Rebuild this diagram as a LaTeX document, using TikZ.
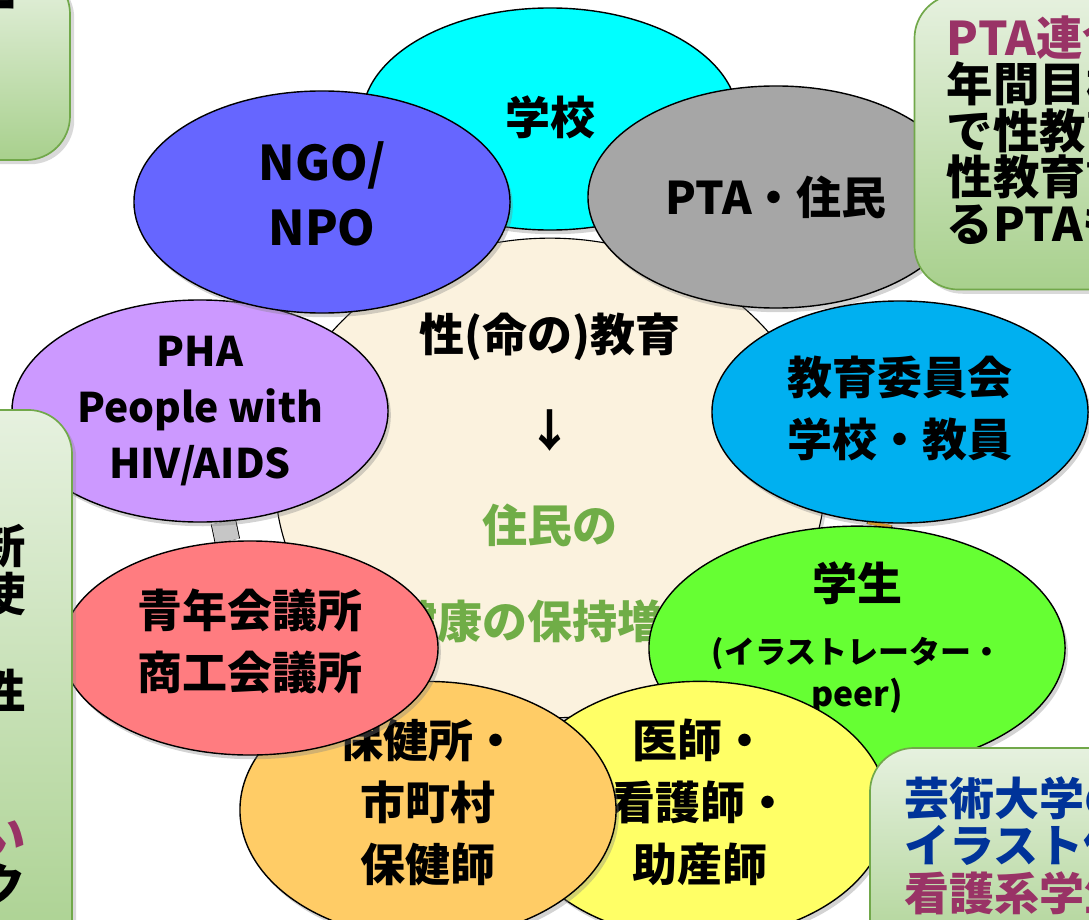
\documentclass[tikz,border=0pt]{standalone}
\usepackage{fontspec}
\setmainfont{Noto Sans CJK JP}
\usepackage{tikz}
\usetikzlibrary{shapes.geometric}
\usetikzlibrary{positioning,shadows,backgrounds}

\definecolor{fillSchool}{HTML}{00FFFF}
\definecolor{fillPTA}{HTML}{A6A6A6}
\definecolor{fillNGO}{HTML}{6666FF}
\definecolor{fillBoard}{HTML}{00B0F0}
\definecolor{fillPHA}{HTML}{CC99FF}
\definecolor{fillStudent}{HTML}{66FF33}
\definecolor{fillChamber}{HTML}{FF7C80}
\definecolor{fillHealth}{HTML}{FFCC66}
\definecolor{fillDoctor}{HTML}{FFFF66}
\definecolor{fillCore}{HTML}{FBF2DE}
\definecolor{leafText}{HTML}{70AD47}
\definecolor{memoTop}{HTML}{E6F1DF}
\definecolor{memoBottom}{HTML}{A8D08D}
\definecolor{memoLine}{HTML}{71A84A}
\definecolor{plum}{HTML}{993366}
\definecolor{navy}{HTML}{003399}

% extra depth under the last line, lifts a text block inside its node
\newcommand{\dropdepth}[1]{\rule[-#1]{0pt}{#1}}

\begin{document}
\begin{tikzpicture}[x=0.025cm, y=-0.025cm]
		\tikzstyle{bubble}=[ellipse, draw=black, line width=1pt, inner sep=0, minimum width=9.4cm, minimum height=5.55cm, align=center, font=\bfseries\fontsize{32}{44}\selectfont, drop shadow={shadow xshift=2pt, shadow yshift=-3pt, opacity=.35}]
		\tikzstyle{memo}=[rectangle, draw=memoLine, line width=1.2pt, rounded corners=1.1cm, top color=memoTop, bottom color=memoBottom, drop shadow={shadow xshift=3pt, shadow yshift=-3pt, opacity=.3}]
		\tikzstyle{memotext}=[inner sep=0, font=\bfseries\fontsize{33}{33}\selectfont]
		\tikzstyle{clasp}=[draw=black, line width=0.6pt, double distance=0.6cm]
		\useasboundingbox (0,0) rectangle (1089,919);
		% centre
		\node[ellipse, draw=black, line width=0.8pt, fill=fillCore, minimum width=13.75cm, minimum height=11.65cm, align=center, font=\bfseries\fontsize{32}{68}\selectfont, drop shadow={shadow xshift=2pt, shadow yshift=-3pt, opacity=.3}] (core) at (550,478) {性(命の)教育\\↓\\\color{leafText}住民の\\\color{leafText}健康の保持増進};
		\node[bubble, fill=fillSchool] (school) at (550,119) {学校\dropdepth{6pt}};
		\node[bubble, fill=fillPTA] (pta) at (776,197) {PTA・住民};
		\node[bubble, fill=fillPHA, font=\bfseries\fontsize{29}{40}\selectfont] (pha) at (200,411) {PHA\\People with\\HIV/AIDS};
		\node[bubble, fill=fillNGO, font=\bfseries\fontsize{34}{46}\selectfont] (ngo) at (322,202) {NGO/\\NPO\dropdepth{12pt}};
		\node[bubble, fill=fillBoard] (board) at (900,412) {教育委員会\\学校・教員\dropdepth{8pt}};
		\node[bubble, fill=fillStudent, minimum width=10.4cm, minimum height=5.5cm, font=\bfseries\fontsize{32}{30}\selectfont] (student) at (857,648) {学生\\[15pt]\fontsize{22}{30}\selectfont(イラストレーター・\\\fontsize{24}{28}\selectfont peer)\dropdepth{20pt}};
		\node[bubble, fill=fillDoctor] (doctor) at (700,810) {医師・\\看護師・\\助産師\dropdepth{14pt}};
		\node[bubble, fill=fillHealth] (health) at (428,810) {保健所・\\市町村\\保健師\dropdepth{14pt}};
		\node[bubble, fill=fillChamber, minimum height=5.35cm] (chamber) at (250,648) {青年会議所\\商工会議所\dropdepth{12pt}};
		\begin{scope}[on background layer]
		\path
		(pha) edge [clasp, double=gray!45] (chamber)
		(board) edge [clasp, double=orange!70!yellow] (student)
		;
		\end{scope}
		% side notes
		\node[memo, minimum width=3.25cm, minimum height=4.75cm] (tlBox) at (5,65) {};
		\node[memotext, anchor=east] (tlNote) at ([xshift=-1.325cm, yshift=-1.05cm]tlBox.north east) {ー};
		\node[memo, minimum width=5.875cm, minimum height=7.375cm] (ptaBox) at (1032,142) {};
		\node[memotext, align=left, below right=0.55cm and 0.825cm of ptaBox.north west] (ptaNote) {\color{plum}PTA連合会\\年間目標\\で性教育\\性教育講\\るPTAも};
		\node[memo, minimum width=3.3cm, minimum height=14.25cm] (leftBox) at (6,695) {};
		\node[memotext, align=right, font=\bfseries\fontsize{33}{34.4}\selectfont, below left=2.875cm and 1.175cm of leftBox.north east] (leftNote) {新\\使\\\mbox{}\\性\\\mbox{}\\\mbox{}\\\color{plum}い\\ク};
		\node[memo, minimum width=7cm, minimum height=5.8cm] (artBox) at (1010,864) {};
		\node[memotext, align=left, font=\bfseries\fontsize{32}{34}\selectfont, below right=0.725cm and 0.875cm of artBox.north west] (artNote) {\color{navy}芸術大学の\\\color{navy}イラスト作\\\color{plum}看護系学生};
	\end{tikzpicture}
\end{document}
